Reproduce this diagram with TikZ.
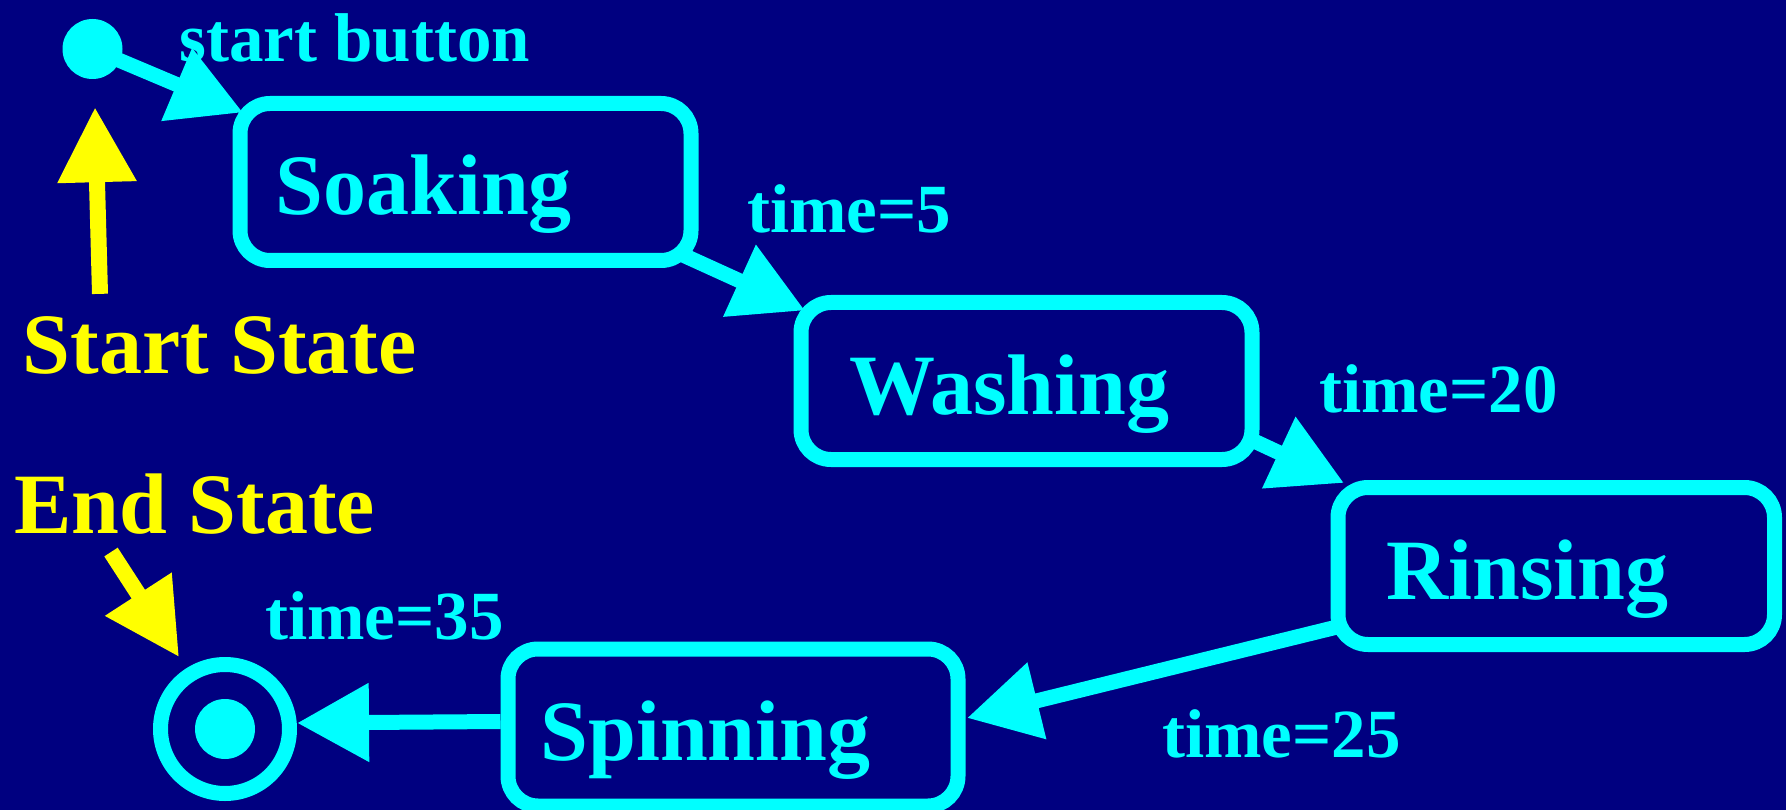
\documentclass[tikz,border=0pt]{standalone}
\usepackage{fontspec}
\setmainfont{Liberation Serif}
\usepackage{tikz}
\usetikzlibrary{arrows.meta}
\definecolor{navy}{RGB}{0,0,128}
\definecolor{wcyan}{RGB}{0,255,255}
\definecolor{wyellow}{RGB}{255,255,0}
\newcommand\statefont{\bfseries\fontsize{86}{96}\selectfont}
\newcommand\guardfont{\bfseries\fontsize{69}{78}\selectfont}
\tikzstyle{state} = [draw=wcyan,line width=15pt,rounded corners=30pt,minimum height=157pt,inner sep=0pt,text height=66pt,text depth=0pt,align=left,text=wcyan,font=\statefont]
\tikzstyle{startdot} = [circle,fill=wcyan,minimum size=60pt,inner sep=0pt]
\tikzstyle{endring} = [circle,draw=wcyan,line width=15pt,minimum size=129pt,inner sep=0pt]
\tikzstyle{transition} = [wcyan,line width=15pt,-{Triangle[length=72pt,width=75pt]}]
\tikzstyle{pointer} = [wyellow,line width=16pt,-{Triangle[length=75pt,width=75pt]}]
\tikzstyle{guard} = [anchor=base west,inner sep=0pt,text=wcyan,font=\guardfont]
\tikzstyle{remark} = [anchor=base west,inner sep=0pt,text=wyellow,font=\statefont]

\begin{document}
\begin{tikzpicture}[x=1pt,y=-1pt]

% define constants
\def \W {1786}
\def \H {810}

% background
\useasboundingbox (0,0) rectangle (\W,\H);
\fill[navy] (0,0) rectangle (\W,\H);

% states
\node[startdot] (init) at (92.5,49) {};
\node[state,minimum width=451pt,text width=380pt] (soak) at (465.5,182) {Soaking};
\node[state,minimum width=451pt,text width=355pt] (wash) at (1026.5,381) {Washing};
\node[state,minimum width=436.5pt,text width=339.5pt] (rinse) at (1556.25,566) {Rinsing};
\node[state,minimum width=450pt,text width=385pt] (spin) at (733,727.5) {Spinning};
\node[endring] (final) at (225,729) {};
\node[startdot] (finaldot) at (225,729) {};

% transitions
\draw[transition] (init.center) -- ([shift={(10.5,16.5)}]soak.north west);
\draw[transition] ([shift={(-14.5,-12.5)}]soak.south east) -- ([shift={(11.5,15.5)}]wash.north west);
\draw[transition] ([shift={(-5.5,-26)}]wash.south east) -- ([shift={(13.5,3)}]rinse.north west);
\draw[transition] ([shift={(6.5,-25)}]rinse.south west) -- ([shift={(1.5,-9.5)}]spin.east);
\draw[transition] ([yshift=6pt]spin.west) -- ([yshift=6pt]final.east);

% guards
\node[guard] (gstart) at (179,62) {start button};
\node[guard] (gsoak) at (747,233) {time=5};
\node[guard] (gwash) at (1319,412) {time=20};
\node[guard] (grinse) at (1162,757) {time=25};
\node[guard] (gspin) at (265,639) {time=35};

% start and end markers
\node[remark] (startlbl) at (22.5,373) {Start State};
\node[remark] (endlbl) at (14,533) {End State};
\draw[pointer] ([shift={(77.5,-22)}]startlbl.north west) -- ([shift={(2.5,28)}]init.south);
\draw[pointer] ([shift={(97,18)}]endlbl.south west) -- ([shift={(5,-21)}]final.north west);

\end{tikzpicture}
\end{document}
